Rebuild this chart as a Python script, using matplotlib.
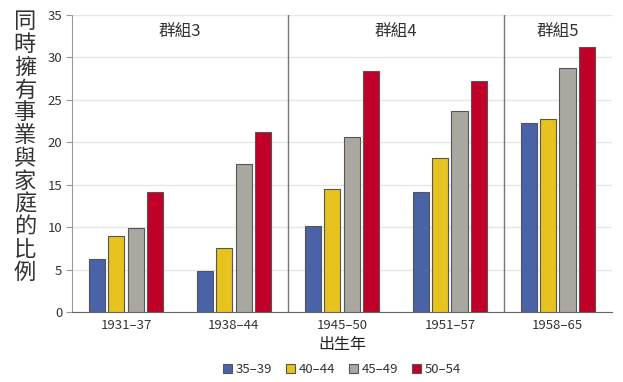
import numpy as np
import matplotlib.pyplot as plt

plt.rcParams['font.family'] = ['Noto Sans CJK TC', 'DejaVu Sans']

# 資料
cohorts = ['1931–37', '1938–44', '1945–50', '1951–57', '1958–65']
ages = ['35–39', '40–44', '45–49', '50–54']
v3539 = [6.2, 4.8, 10.2, 14.1, 22.3]
v4044 = [9.0, 7.6, 14.5, 18.1, 22.8]
v4549 = [9.9, 17.5, 20.6, 23.7, 28.7]
v5054 = [14.2, 21.2, 28.4, 27.2, 31.2]
groups = ['群組3', '群組4', '群組5']
group_pos = [0.5, 2.5, 4.0]
dividers = [1.5, 3.5]

colores = ['#4a62a6', '#e6c31f', '#aaa6a0', '#c00028']

fig = plt.figure(figsize=(6.23, 3.82), dpi=100)
ax = fig.add_axes([0.1156, 0.183, 0.8664, 0.7777])

x = np.arange(len(cohorts))
w = 0.15
step = 0.18
series = [v3539, v4044, v4549, v5054]
for i, vals in enumerate(series):
    ax.bar(x + (i - 1.5) * step, vals, width=w, color=colores[i],
           edgecolor='#555555', linewidth=0.8, label=ages[i], zorder=3)

for d in dividers:
    ax.axvline(d, color='#777777', linewidth=1.0, zorder=2)

for g, p in zip(groups, group_pos):
    ax.text(p, 33.0, g, ha='center', va='center', fontsize=12, color='#333333')

ax.set_xlim(-0.5, 4.5)
ax.set_ylim(0, 35)
ax.set_yticks(range(0, 36, 5))
ax.set_xticks(x)
ax.set_xticklabels(cohorts)
ax.yaxis.grid(True, color='#e6e6e6', linewidth=1.0, zorder=0)
ax.tick_params(axis='both', labelsize=9.5, colors='#333333')
ax.tick_params(axis='y', length=4, color='#999999', pad=3)
ax.tick_params(axis='x', length=0, pad=5)
for s in ['top', 'right']:
    ax.spines[s].set_visible(False)
ax.spines['left'].set_color('#999999')
ax.spines['bottom'].set_color('#666666')

ax.set_xlabel('出生年', fontsize=11.5, color='#222222', labelpad=3)

# etiqueta vertical
fig.text(0.04, 0.615, '\n'.join('同時擁有事業與家庭的比例'), ha='center', va='center',
         fontsize=16, color='#333333', linespacing=0.99)

ax.legend(loc='upper center', bbox_to_anchor=(0.5, -0.14), ncol=4, frameon=False,
          fontsize=9.5, handlelength=0.7, handleheight=0.7, handletextpad=0.3,
          columnspacing=1.0, labelcolor='#333333', borderpad=0.2)

plt.savefig('out.png', dpi=100)
